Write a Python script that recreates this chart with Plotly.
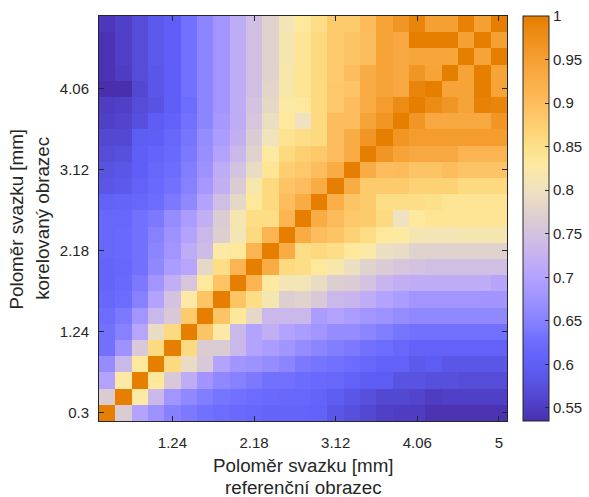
import plotly.graph_objects as go

# Beam radii [mm]: reference pattern along x, correlated pattern along y
x_radius = [0.488, 0.676, 0.864, 1.052, 1.24, 1.428, 1.616, 1.804, 1.992, 2.18,
            2.368, 2.556, 2.744, 2.932, 3.12, 3.308, 3.496, 3.684, 3.872, 4.06,
            4.248, 4.436, 4.624, 4.812, 5.0]
y_radius = [0.3, 0.488, 0.676, 0.864, 1.052, 1.24, 1.428, 1.616, 1.804, 1.992,
            2.18, 2.368, 2.556, 2.744, 2.932, 3.12, 3.308, 3.496, 3.684, 3.872,
            4.06, 4.248, 4.436, 4.624, 4.812]

x_tick_labels = ["1.24", "2.18", "3.12", "4.06", "5"]
y_tick_labels = ["0.3", "1.24", "2.18", "3.12", "4.06"]
cbar_ticks = [0.55, 0.6, 0.65, 0.7, 0.75, 0.8, 0.85, 0.9, 0.95, 1.0]
cbar_tick_labels = ["0.55", "0.6", "0.65", "0.7", "0.75", "0.8", "0.85", "0.9", "0.95", "1"]

# Correlation coefficients, one row per correlated radius (bottom row first)
corr = [
    [1.0, 0.765, 0.70, 0.675, 0.65, 0.64, 0.63, 0.625, 0.62, 0.615, 0.61, 0.61,
     0.61, 0.605, 0.585, 0.575, 0.565, 0.555, 0.55, 0.55, 0.54, 0.54, 0.54, 0.54, 0.54],
    [0.765, 1.0, 0.825, 0.735, 0.68, 0.66, 0.645, 0.635, 0.63, 0.625, 0.62, 0.615,
     0.615, 0.61, 0.595, 0.585, 0.575, 0.565, 0.565, 0.56, 0.55, 0.555, 0.555, 0.555, 0.555],
    [0.70, 0.825, 1.0, 0.835, 0.76, 0.715, 0.68, 0.66, 0.65, 0.64, 0.63, 0.63,
     0.625, 0.62, 0.615, 0.605, 0.595, 0.595, 0.58, 0.58, 0.575, 0.575, 0.57, 0.57, 0.57],
    [0.665, 0.735, 0.835, 1.0, 0.86, 0.79, 0.76, 0.70, 0.68, 0.675, 0.665, 0.655,
     0.64, 0.635, 0.63, 0.625, 0.615, 0.605, 0.605, 0.59, 0.595, 0.585, 0.585, 0.585, 0.585],
    [0.63, 0.675, 0.76, 0.86, 1.0, 0.86, 0.765, 0.765, 0.735, 0.70, 0.69, 0.68,
     0.665, 0.655, 0.645, 0.64, 0.63, 0.625, 0.615, 0.605, 0.605, 0.605, 0.605, 0.605, 0.605],
    [0.63, 0.65, 0.705, 0.79, 0.86, 1.0, 0.89, 0.825, 0.735, 0.70, 0.72, 0.70,
     0.69, 0.68, 0.665, 0.665, 0.655, 0.645, 0.635, 0.63, 0.63, 0.63, 0.63, 0.63, 0.63],
    [0.625, 0.64, 0.68, 0.735, 0.76, 0.88, 1.0, 0.89, 0.835, 0.785, 0.735, 0.735,
     0.735, 0.69, 0.70, 0.69, 0.68, 0.675, 0.665, 0.66, 0.66, 0.66, 0.66, 0.66, 0.66],
    [0.615, 0.625, 0.65, 0.70, 0.75, 0.825, 0.89, 1.0, 0.89, 0.855, 0.815, 0.77,
     0.775, 0.76, 0.735, 0.73, 0.715, 0.70, 0.69, 0.68, 0.68, 0.68, 0.68, 0.68, 0.68],
    [0.61, 0.62, 0.64, 0.68, 0.72, 0.755, 0.835, 0.89, 1.0, 0.915, 0.83, 0.81,
     0.81, 0.79, 0.77, 0.765, 0.75, 0.73, 0.72, 0.715, 0.715, 0.715, 0.715, 0.715, 0.705],
    [0.61, 0.615, 0.63, 0.66, 0.69, 0.705, 0.785, 0.855, 0.915, 1.0, 0.93, 0.86,
     0.855, 0.835, 0.82, 0.795, 0.775, 0.765, 0.755, 0.75, 0.745, 0.745, 0.745, 0.745, 0.745],
    [0.615, 0.62, 0.63, 0.655, 0.68, 0.715, 0.74, 0.825, 0.835, 0.915, 1.0, 0.93,
     0.855, 0.86, 0.855, 0.835, 0.825, 0.795, 0.79, 0.775, 0.775, 0.775, 0.775, 0.775, 0.775],
    [0.615, 0.62, 0.63, 0.65, 0.675, 0.70, 0.735, 0.77, 0.81, 0.86, 0.915, 1.0,
     0.93, 0.90, 0.89, 0.87, 0.855, 0.835, 0.83, 0.815, 0.81, 0.81, 0.815, 0.815, 0.815],
    [0.615, 0.615, 0.63, 0.64, 0.665, 0.69, 0.72, 0.765, 0.815, 0.855, 0.855, 0.915,
     1.0, 0.93, 0.905, 0.885, 0.88, 0.86, 0.80, 0.835, 0.84, 0.84, 0.84, 0.84, 0.84],
    [0.605, 0.61, 0.615, 0.625, 0.64, 0.66, 0.70, 0.745, 0.785, 0.835, 0.86, 0.90,
     0.93, 1.0, 0.925, 0.89, 0.88, 0.855, 0.855, 0.855, 0.85, 0.84, 0.84, 0.84, 0.84],
    [0.585, 0.59, 0.605, 0.62, 0.63, 0.65, 0.685, 0.72, 0.765, 0.82, 0.86, 0.89,
     0.90, 0.93, 1.0, 0.93, 0.88, 0.88, 0.88, 0.87, 0.87, 0.87, 0.86, 0.86, 0.86],
    [0.58, 0.585, 0.60, 0.615, 0.625, 0.645, 0.675, 0.715, 0.75, 0.79, 0.84, 0.875,
     0.885, 0.90, 0.93, 1.0, 0.93, 0.90, 0.905, 0.89, 0.89, 0.90, 0.89, 0.89, 0.89],
    [0.57, 0.575, 0.60, 0.61, 0.62, 0.64, 0.67, 0.70, 0.735, 0.775, 0.83, 0.86,
     0.875, 0.885, 0.90, 0.93, 1.0, 0.965, 0.945, 0.935, 0.935, 0.935, 0.915, 0.915, 0.915],
    [0.565, 0.565, 0.595, 0.60, 0.615, 0.635, 0.665, 0.69, 0.72, 0.765, 0.805, 0.845,
     0.855, 0.86, 0.90, 0.93, 0.965, 1.0, 0.965, 0.955, 0.955, 0.955, 0.955, 0.955, 0.955],
    [0.555, 0.56, 0.575, 0.595, 0.605, 0.63, 0.655, 0.685, 0.715, 0.755, 0.795, 0.835,
     0.80, 0.86, 0.90, 0.90, 0.945, 0.965, 1.0, 0.965, 0.935, 0.935, 0.935, 0.935, 0.965],
    [0.55, 0.555, 0.57, 0.58, 0.60, 0.625, 0.655, 0.68, 0.715, 0.75, 0.785, 0.825,
     0.835, 0.86, 0.885, 0.90, 0.93, 0.955, 0.98, 1.0, 0.98, 0.965, 0.945, 0.995, 0.99],
    [0.535, 0.535, 0.565, 0.585, 0.60, 0.63, 0.655, 0.68, 0.715, 0.745, 0.78, 0.82,
     0.84, 0.86, 0.885, 0.89, 0.93, 0.945, 0.935, 0.99, 1.0, 0.945, 0.945, 1.0, 0.945],
    [0.54, 0.55, 0.57, 0.585, 0.60, 0.63, 0.655, 0.68, 0.715, 0.745, 0.775, 0.82,
     0.84, 0.86, 0.88, 0.90, 0.93, 0.945, 0.935, 0.965, 0.945, 1.0, 0.945, 1.0, 0.945],
    [0.54, 0.555, 0.57, 0.59, 0.60, 0.63, 0.655, 0.68, 0.715, 0.745, 0.775, 0.815,
     0.84, 0.86, 0.88, 0.89, 0.90, 0.945, 0.935, 0.94, 0.94, 0.94, 1.0, 0.945, 1.0],
    [0.54, 0.555, 0.57, 0.59, 0.60, 0.63, 0.655, 0.68, 0.715, 0.745, 0.775, 0.815,
     0.84, 0.86, 0.88, 0.89, 0.90, 0.945, 0.935, 1.0, 1.0, 1.0, 0.95, 1.0, 0.95],
    [0.545, 0.555, 0.57, 0.59, 0.60, 0.63, 0.655, 0.68, 0.715, 0.745, 0.775, 0.81,
     0.835, 0.855, 0.88, 0.88, 0.905, 0.945, 0.965, 0.99, 0.95, 0.95, 0.995, 0.95, 1.0],
]

z_min, z_max = 0.535, 1.0

# Blue - lavender - cream - orange colour map (value, colour)
cmap_points = [
    (0.535, "#4a2fad"), (0.55, "#4e3cc2"), (0.575, "#5750dd"), (0.60, "#5f5ff8"),
    (0.625, "#6c6cff"), (0.65, "#8682ff"), (0.675, "#9d92ff"), (0.70, "#b4a2ff"),
    (0.725, "#c5b2f0"), (0.75, "#d3c2e0"), (0.775, "#e0d2cc"), (0.80, "#eee2c0"),
    (0.83, "#fdeaa0"), (0.85, "#fde08a"), (0.875, "#fdcf70"), (0.90, "#fdbd5e"),
    (0.925, "#faae48"), (0.95, "#f5a033"), (0.975, "#ee8f1a"), (1.0, "#e67e00"),
]
colorscale = [[(v - z_min) / (z_max - z_min), c] for v, c in cmap_points]

font_family = "Liberation Sans, Arial, Helvetica, sans-serif"
ink = "#262626"

fig = go.Figure(
    go.Heatmap(
        x=x_radius,
        y=y_radius,
        z=corr,
        zmin=z_min,
        zmax=z_max,
        colorscale=colorscale,
        zsmooth=False,
        colorbar=dict(
            x=1.039, xanchor="left", xref="paper", xpad=0,
            y=0.5, yanchor="middle", len=1.0, lenmode="fraction", ypad=0,
            thickness=26, thicknessmode="pixels",
            outlinecolor=ink, outlinewidth=1,
            tickvals=cbar_ticks,
            ticktext=cbar_tick_labels,
            ticks="inside", ticklen=4, tickcolor=ink,
            tickfont=dict(family=font_family, size=15, color=ink),
        ),
    )
)

axis_common = dict(
    showgrid=False, zeroline=False,
    showline=True, linecolor=ink, linewidth=1, mirror="ticks",
    ticks="inside", ticklen=5, tickcolor=ink, tickwidth=1,
    tickfont=dict(family=font_family, size=15, color=ink),
)

fig.update_xaxes(
    range=[0.394, 5.094],
    tickvals=[float(t) for t in x_tick_labels],
    ticktext=x_tick_labels,
    ticklabelstandoff=8,
    **axis_common,
)
fig.update_yaxes(
    range=[0.206, 4.906],
    tickvals=[float(t) for t in y_tick_labels],
    ticktext=y_tick_labels,
    ticklabelstandoff=6,
    **axis_common,
)

title_font = dict(family=font_family, size=18.8, color=ink)
annotations = [
    dict(text="Poloměr svazku [mm]", x=0.5, y=-0.109, xref="paper", yref="paper",
         xanchor="center", yanchor="middle", showarrow=False, font=title_font),
    dict(text="referenční obrazec", x=0.5, y=-0.163, xref="paper", yref="paper",
         xanchor="center", yanchor="middle", showarrow=False, font=title_font),
    dict(text="Poloměr svazku [mm]", x=-0.201, y=0.5, xref="paper", yref="paper",
         xanchor="center", yanchor="middle", textangle=-90, showarrow=False, font=title_font),
    dict(text="korelovaný obrazec", x=-0.139, y=0.5, xref="paper", yref="paper",
         xanchor="center", yanchor="middle", textangle=-90, showarrow=False, font=title_font),
]

fig.update_layout(
    width=589, height=497,
    margin=dict(l=99, r=82, t=16, b=76, pad=0, autoexpand=False),
    paper_bgcolor="white", plot_bgcolor="white",
    annotations=annotations,
    font=dict(family=font_family, color=ink),
)

fig.write_html("out.html")
